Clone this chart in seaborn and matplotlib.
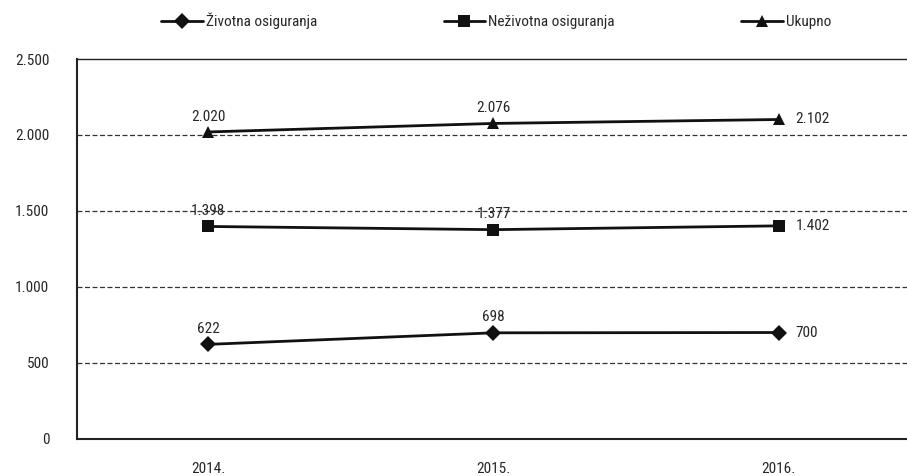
import numpy as np
import pandas as pd
import seaborn as sns
import matplotlib.pyplot as plt
from matplotlib.ticker import FuncFormatter
from matplotlib import font_manager

years = ["2014.", "2015.", "2016."]
zivotna = [622, 698, 700]
nezivotna = [1398, 1377, 1402]
ukupno = [2020, 2076, 2102]
series_names = ["Životna osiguranja", "Neživotna osiguranja", "Ukupno"]
y_ticks = [0, 500, 1000, 1500, 2000, 2500]

df = pd.DataFrame({
    "godina": years * 3,
    "x": list(range(len(years))) * 3,
    "vrijednost": zivotna + nezivotna + ukupno,
    "serija": [series_names[0]] * 3 + [series_names[1]] * 3 + [series_names[2]] * 3,
})

sns.set_style("white")
installed = set(f.name for f in font_manager.fontManager.ttflist)
fams = [f for f in ["Liberation Sans Narrow", "DejaVu Sans Condensed", "Roboto Condensed"] if f in installed]
plt.rcParams['font.family'] = fams + ['DejaVu Sans']
if not fams:
    plt.rcParams['font.stretch'] = 'condensed'
fs = 11 if fams else 10


def fmt(v):
    return "{:,}".format(int(v)).replace(",", ".")


fig = plt.figure(figsize=(9.07, 4.76), dpi=100)
ax = fig.add_axes([0.085, 0.078, 0.915, 0.798])

markers = {series_names[0]: "D", series_names[1]: "s", series_names[2]: "^"}
sns.lineplot(data=df, x="x", y="vrijednost", hue="serija", style="serija",
             markers=markers, dashes=False, palette=["#111111"] * 3,
             linewidth=2, markersize=8, markeredgewidth=0, ax=ax)

ax.set_xlim(-0.46, 2.45)
ax.set_ylim(0, 2500)
ax.set_yticks(y_ticks)
ax.yaxis.set_major_formatter(FuncFormatter(lambda v, p: fmt(v)))
ax.set_xticks(range(len(years)))
ax.set_xticklabels(years)
ax.tick_params(axis="y", length=0, pad=20, labelsize=fs)
ax.tick_params(axis="x", length=0, pad=17, labelsize=fs)
ax.set_xlabel("")
ax.set_ylabel("")

for v in y_ticks[1:-1]:
    ax.axhline(v, color="#333333", linestyle=(0, (4, 2)), linewidth=0.9, zorder=0)

for s in ["left", "bottom", "top"]:
    ax.spines[s].set_color("#222222")
    ax.spines[s].set_linewidth(1.5)
ax.spines["top"].set_linewidth(1.0)
ax.spines["right"].set_visible(False)

for vals in [zivotna, nezivotna, ukupno]:
    for i, v in enumerate(vals):
        if i < 2:
            ax.annotate(fmt(v), (i, v), xytext=(0, 6), textcoords="offset points",
                        ha="center", va="bottom", fontsize=fs)
        else:
            ax.annotate(fmt(v), (i, v), xytext=(12, 0), textcoords="offset points",
                        ha="left", va="center", fontsize=fs)

handles, labels = ax.get_legend_handles_labels()
ax.legend(handles, labels, loc="center", bbox_to_anchor=(0.505, 1.10), ncol=3,
          frameon=False, fontsize=fs, columnspacing=8.3, handlelength=2.7,
          handletextpad=0.2)

fig.savefig("out.png", dpi=100)
